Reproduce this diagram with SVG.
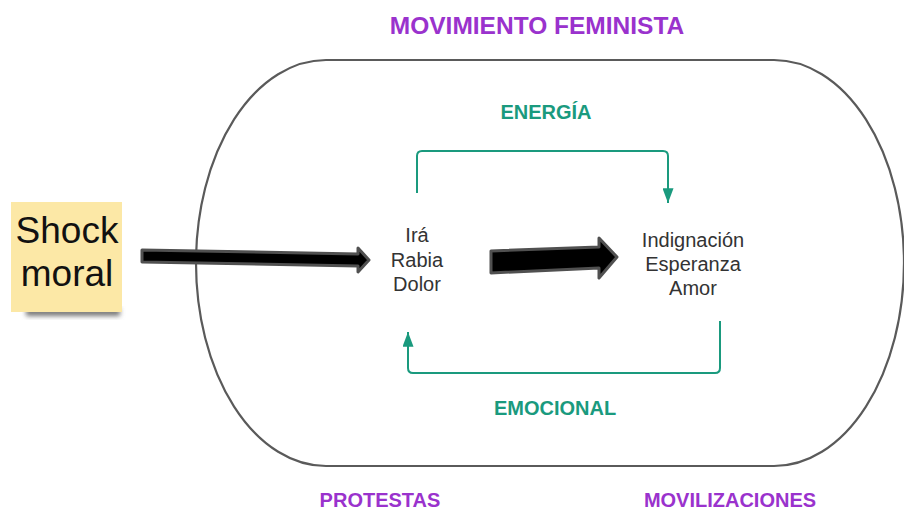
<svg xmlns="http://www.w3.org/2000/svg" width="904" height="510" viewBox="0 0 904 510">
<defs>
<style>
.t{font-family:"Liberation Sans",Arial,sans-serif;text-anchor:middle}
.body{font-size:20px;fill:#333}
.green{font-size:20px;font-weight:bold;fill:#1a9a7e}
.purple{font-size:20px;font-weight:bold;fill:#9a32cd}
.conn{fill:none;stroke:#1a9a7e;stroke-width:2;stroke-linejoin:round}
.block{fill:#000;stroke:#505050;stroke-width:3;stroke-linejoin:round}
</style>
<marker id="ah2" viewBox="0 0 16 12" refX="16" refY="6" markerWidth="16" markerHeight="11" markerUnits="userSpaceOnUse" orient="auto">
<path d="M0,0 L16,6 L0,12 Z" fill="#1a9a7e"/>
</marker>
<filter id="sh" x="-20%" y="-20%" width="140%" height="160%">
<feGaussianBlur stdDeviation="2.5"/>
</filter>
</defs>
<rect width="904" height="510" fill="#fff"/>

<g id="movimiento">
<path d="M326,60 L774,60 A130,203 0 0 1 904,263 A130,203 0 0 1 774,466 L326,466 A130,203 0 0 1 196,263 A130,203 0 0 1 326,60 Z" fill="none" stroke="#5a5a5a" stroke-width="2.2"/>
<text class="t purple" x="537" y="34" style="font-size:24.5px">MOVIMIENTO FEMINISTA</text>
</g>

<g id="shock">
<rect x="26" y="308" width="94" height="8" fill="#777" filter="url(#sh)"/>
<rect x="11" y="202" width="111" height="110" fill="#fce8a6"/>
<text class="t" x="67" y="243" style="font-size:37px;fill:#111">Shock</text>
<text class="t" x="67" y="286" style="font-size:37px;fill:#111">moral</text>
</g>

<g id="emociones1">
<text class="t body" x="417" y="242">Irá</text>
<text class="t body" x="417" y="267">Rabia</text>
<text class="t body" x="417" y="291">Dolor</text>
</g>

<g id="emociones2">
<text class="t body" x="693" y="247">Indignación</text>
<text class="t body" x="693" y="271">Esperanza</text>
<text class="t body" x="693" y="295">Amor</text>
</g>

<g id="labels">
<text class="t green" x="546" y="119">ENERGÍA</text>
<text class="t green" x="555" y="415">EMOCIONAL</text>
<text class="t purple" x="380" y="507">PROTESTAS</text>
<text class="t purple" x="730" y="507">MOVILIZACIONES</text>
</g>

<g id="connectors">
<path class="block" d="M142,250 L358,254 L358,248 L369,260 L358,272 L358,266 L142,262 Z"/>
<path class="block" d="M491,251 L599,247 L599,238 L617,257 L599,278 L599,268 L491,273 Z"/>
<path class="conn" d="M417,193 L417,156 Q417,151 422,151 L663,151 Q668,151 668,156 L668,203" marker-end="url(#ah2)"/>
<path class="conn" d="M720,321 L720,368 Q720,373 715,373 L413,373 Q408,373 408,368 L408,332" marker-end="url(#ah2)"/>
</g>
</svg>
